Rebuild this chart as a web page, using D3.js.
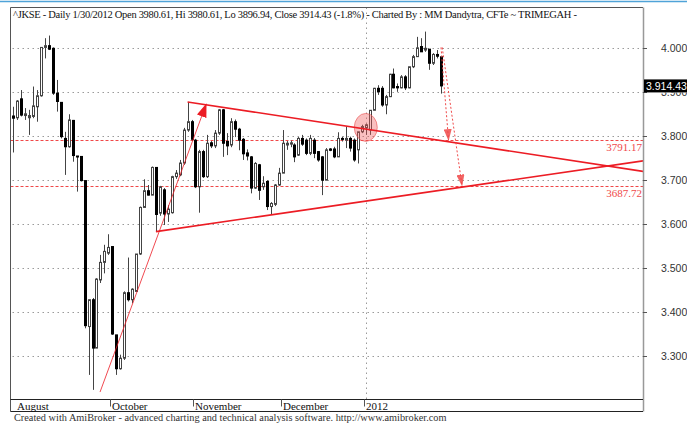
<!DOCTYPE html>
<html>
<head>
<meta charset="utf-8">
<script src="https://cdn.jsdelivr.net/npm/d3@7"></script>
<style>
  body { margin: 0; background: #fff; }
  svg { display: block; }
</style>
</head>
<body>
<div id="chart"></div>
<script>
// ^JKSE daily bars, late Aug 2011 .. 30 Jan 2012
const opens = [3846,3842,3885,3847,3842,3845,3867,3892,4002,4006,4000,3898,3877,3795,3776,3836,3755,3754,3699,3367,
  3428,3318,3473,3513,3534,3549,3348,3271,3295,3444,3428,3447,3532,3638,3676,3666,3729,3625,3678,3623,
  3626,3708,3712,3739,3814,3833,3791,3685,3765,3708,3785,3778,3807,3860,3788,3780,3833,3816,3793,3762,
  3753,3682,3735,3685,3697,3640,3645,3689,3716,3780,3782,3780,3757,3795,3791,3761,3791,3765,3753,3700,
  3771,3771,3753,3795,3791,3795,3791,3769,3810,3819,3814,3859,3909,3909,3871,3890,3941,3913,3910,3935,
  3910,3958,3981,4004,3996,3998,3966,3986,3980.61];
const highs = [3867,3882,3905,3864,3860,3913,3905,4002,4023,4029,4002,3928,3877,3810,3850,3837,3755,3754,3699,3428,
  3432,3477,3530,3553,3577,3549,3348,3303,3447,3524,3454,3532,3640,3702,3689,3731,3729,3687,3682,3643,
  3710,3723,3746,3819,3878,3837,3794,3769,3769,3803,3789,3814,3862,3862,3807,3841,3838,3819,3796,3770,
  3755,3741,3737,3709,3700,3650,3691,3728,3814,3789,3790,3784,3798,3803,3795,3803,3796,3766,3755,3773,
  3773,3776,3809,3799,3822,3799,3795,3810,3826,3828,3859,3910,3916,3914,3894,3942,3954,3920,3939,3939,
  3958,3985,4026,4023,4038,3998,3989,3996,3980.61];
const lows = [3763,3837,3845,3837,3803,3841,3833,3890,3977,3996,3894,3856,3795,3712,3774,3742,3674,3697,3363,3257,
  3223,3318,3466,3488,3530,3348,3257,3269,3291,3424,3420,3447,3530,3638,3665,3666,3583,3619,3598,3605,
  3624,3703,3709,3735,3810,3789,3682,3626,3705,3705,3773,3773,3803,3753,3757,3775,3798,3768,3746,3745,
  3670,3680,3655,3678,3632,3621,3641,3687,3716,3769,3775,3741,3755,3778,3757,3757,3750,3742,3666,3700,
  3766,3750,3753,3788,3773,3765,3742,3738,3807,3803,3803,3859,3894,3867,3850,3889,3909,3901,3909,3905,
  3909,3955,3981,3992,3992,3951,3962,3977,3896.94];
const closes = [3841,3880,3848,3851,3847,3869,3892,4002,4006,3998,3898,3879,3799,3776,3837,3756,3753,3699,3369,3428,
  3318,3475,3513,3538,3547,3350,3271,3295,3444,3428,3452,3532,3638,3676,3666,3729,3622,3685,3623,3634,
  3708,3716,3739,3814,3833,3793,3685,3765,3708,3784,3778,3807,3860,3784,3778,3833,3816,3791,3760,3755,
  3682,3738,3677,3693,3640,3647,3689,3716,3784,3784,3785,3753,3795,3782,3761,3795,3761,3746,3700,3769,
  3768,3753,3795,3794,3795,3773,3746,3810,3822,3826,3859,3909,3901,3871,3890,3941,3910,3910,3935,3910,
  3958,3981,4001,3992,4000,3966,3986,3982,3914.43];

// Month separators (bar index of first bar) and labels
const monthStarts = [0, 25, 46, 68, 89];
const monthLabels = ["August", "October", "November", "December", "2012"];

// Price axis ticks
const priceTicks = [3300, 3400, 3500, 3600, 3700, 3800, 3900, 4000];

// Drawn studies: [bar index, price]
const upperTrend = [[44, 3878], [159, 3720]];
const lowerTrend = [[36, 3583], [159, 3744]];
const upArrow = [[21.9, 3218], [48.7, 3873]];
const targetLevels = [3791.17, 3687.72];
const targetArrows = [
  [[108, 4002], [109.9, 3791.17]],
  [[108.3, 4002], [113.3, 3687.72]]
];
const breakoutPoint = [89, 3820];
const lastClose = 3914.43;

const title = "^JKSE - Daily 1/30/2012 Open 3980.61, Hi 3980.61, Lo 3896.94, Close 3914.43 (-1.8%) - Charted By : MM Dandytra, CFTe ~ TRIMEGAH -";
const footer = "Created with AmiBroker - advanced charting and technical analysis software. http://www.amibroker.com";

// Parameters
const width = 687;
const height = 425;
const plotLeft = 10.5, plotRight = 643, plotTop = 7.5, plotBottom = 399.5, bandBottom = 411.5;
const red = "#ec1c24";
const lightRed = "#f04848";

const bars = opens.map((o, i) => ({ i, o, h: highs[i], l: lows[i], c: closes[i] }));

const x = d3.scaleLinear().domain([0, 159]).range([13.3, plotRight]);
const y = d3.scaleLinear().domain([3300, 4000]).range([356, 48.3]);
const fmt = d3.formatLocale({ decimal: ",", thousands: ".", grouping: [3] }).format(",d");

const svg = d3.select("#chart")
  .append("svg")
  .attr("width", width)
  .attr("height", height)
  .style("font-family", "'Liberation Serif', serif");

const defs = svg.append("defs");
defs.append("clipPath").attr("id", "plot")
  .append("rect")
  .attr("x", plotLeft).attr("y", plotTop)
  .attr("width", plotRight - plotLeft).attr("height", plotBottom - plotTop);

// the 3.900 label hides behind the last price box, as in AmiBroker
defs.append("clipPath").attr("id", "underBox")
  .append("rect")
  .attr("x", plotRight).attr("y", y(lastClose) + 6.5)
  .attr("width", width - plotRight).attr("height", 10);

defs.append("marker")
  .attr("id", "headSolid")
  .attr("markerUnits", "userSpaceOnUse")
  .attr("viewBox", "0 0 14 10")
  .attr("refX", 13).attr("refY", 5)
  .attr("markerWidth", 14).attr("markerHeight", 10)
  .attr("orient", "auto")
  .append("path")
  .attr("d", "M0,0L14,5L0,10Z")
  .attr("fill", red);

defs.append("marker")
  .attr("id", "headDotted")
  .attr("markerUnits", "userSpaceOnUse")
  .attr("viewBox", "0 0 12 8")
  .attr("refX", 11).attr("refY", 4)
  .attr("markerWidth", 12).attr("markerHeight", 8)
  .attr("orient", "auto")
  .append("path")
  .attr("d", "M0,0L12,4L0,8Z")
  .attr("fill", lightRed)
  .attr("opacity", 0.85);

// Blue strip at the very top
svg.append("line")
  .attr("x1", 0).attr("x2", width)
  .attr("y1", 1.5).attr("y2", 1.5)
  .attr("stroke", "#4fa3d8")
  .attr("stroke-width", 1.5);

// Horizontal grid
svg.append("g")
  .selectAll("line")
  .data(priceTicks)
  .enter()
  .append("line")
  .attr("x1", plotLeft + 2).attr("x2", plotRight)
  .attr("y1", d => Math.round(y(d)) + 0.5)
  .attr("y2", d => Math.round(y(d)) + 0.5)
  .attr("stroke", "#9a9a9a")
  .attr("stroke-dasharray", "1.5,3.5");

// Year separator
svg.append("line")
  .attr("x1", Math.round(x(monthStarts[4])) + 0.5)
  .attr("x2", Math.round(x(monthStarts[4])) + 0.5)
  .attr("y1", plotTop).attr("y2", plotBottom)
  .attr("stroke", "#9a9a9a")
  .attr("stroke-dasharray", "1.5,3.5");

const plot = svg.append("g").attr("clip-path", "url(#plot)");

// Target levels (dashed red)
plot.selectAll(".level")
  .data(targetLevels)
  .enter()
  .append("line")
  .attr("class", "level")
  .attr("x1", plotLeft).attr("x2", plotRight)
  .attr("y1", d => Math.round(y(d)) + 0.5)
  .attr("y2", d => Math.round(y(d)) + 0.5)
  .attr("stroke", lightRed)
  .attr("stroke-dasharray", "3,2");

// Candles
const candle = plot.selectAll(".bar")
  .data(bars)
  .enter()
  .append("g")
  .attr("class", "bar");

candle.append("line")
  .attr("x1", d => Math.round(x(d.i)) + 0.5)
  .attr("x2", d => Math.round(x(d.i)) + 0.5)
  .attr("y1", d => y(d.h))
  .attr("y2", d => y(d.l))
  .attr("stroke", "#444");

candle.append("rect")
  .attr("x", d => Math.round(x(d.i)) - 0.5)
  .attr("width", 2)
  .attr("y", d => y(Math.max(d.o, d.c)))
  .attr("height", d => Math.max(1, Math.abs(y(d.o) - y(d.c))))
  .attr("fill", d => d.c < d.o ? "#000" : "#fff")
  .attr("stroke", d => d.c < d.o ? "#000" : "#444");

// Breakout circle
plot.append("ellipse")
  .attr("cx", x(breakoutPoint[0]))
  .attr("cy", y(breakoutPoint[1]))
  .attr("rx", 11.5).attr("ry", 14)
  .attr("fill", "rgba(240,90,90,0.38)")
  .attr("stroke", "rgba(235,80,80,0.6)");

// Trend lines of the triangle
const line = d3.line().x(d => x(d[0])).y(d => y(d[1]));
[upperTrend, lowerTrend].forEach(t => {
  plot.append("path")
    .attr("d", line(t))
    .attr("fill", "none")
    .attr("stroke", red)
    .attr("stroke-width", 1.6);
});

// Rising arrow
plot.append("path")
  .attr("d", line(upArrow))
  .attr("fill", "none")
  .attr("stroke", red)
  .attr("stroke-width", 0.8)
  .attr("marker-end", "url(#headSolid)");

// Dotted target arrows from the last bar
plot.selectAll(".target")
  .data(targetArrows)
  .enter()
  .append("path")
  .attr("class", "target")
  .attr("d", d => line(d))
  .attr("fill", "none")
  .attr("stroke", lightRed)
  .attr("stroke-dasharray", "2,2")
  .attr("marker-end", "url(#headDotted)");

// Target labels
svg.selectAll(".level-label")
  .data(targetLevels)
  .enter()
  .append("text")
  .attr("class", "level-label")
  .attr("x", plotRight - 1)
  .attr("y", d => y(d) + 11)
  .attr("text-anchor", "end")
  .attr("fill", lightRed)
  .style("font-size", "11px")
  .text(d => d.toFixed(2));

// Frame
svg.append("path")
  .attr("d", `M${plotLeft},${bandBottom}V${plotTop}H${plotRight}`)
  .attr("fill", "none")
  .attr("stroke", "#555");
svg.append("line")
  .attr("x1", plotRight + 0.5).attr("x2", plotRight + 0.5)
  .attr("y1", plotTop).attr("y2", bandBottom)
  .attr("stroke", "#999").attr("stroke-width", 1.5);
svg.append("line")
  .attr("x1", plotLeft).attr("x2", plotRight)
  .attr("y1", plotBottom).attr("y2", plotBottom)
  .attr("stroke", "#222");
svg.append("line")
  .attr("x1", plotLeft).attr("x2", plotRight)
  .attr("y1", bandBottom).attr("y2", bandBottom)
  .attr("stroke", "#222");

// Price axis labels
const yAxis = svg.append("g");
yAxis.selectAll("line")
  .data(priceTicks)
  .enter()
  .append("line")
  .attr("x1", plotRight).attr("x2", plotRight + 4)
  .attr("y1", d => Math.round(y(d)) + 0.5)
  .attr("y2", d => Math.round(y(d)) + 0.5)
  .attr("stroke", "#555");
yAxis.selectAll("text")
  .data(priceTicks)
  .enter()
  .append("text")
  .attr("x", 661)
  .attr("y", d => y(d) + 4)
  .attr("fill", "#333")
  .attr("clip-path", d => d === 3900 ? "url(#underBox)" : null)
  .style("font-family", "'Liberation Sans', sans-serif")
  .style("font-size", "10.5px")
  .text(d => fmt(d));

// Last price box
const lastY = y(lastClose);
svg.append("rect")
  .attr("x", plotRight + 1).attr("y", lastY - 6.5)
  .attr("width", width - plotRight - 1).attr("height", 13)
  .attr("fill", "#000");
svg.append("text")
  .attr("x", plotRight + 3).attr("y", lastY + 4)
  .attr("fill", "#fff")
  .style("font-family", "'Liberation Sans', sans-serif")
  .style("font-size", "10.5px")
  .text("3.914.43");

// Month separators and labels
const months = svg.append("g");
months.selectAll("line")
  .data(monthStarts.slice(1))
  .enter()
  .append("line")
  .attr("x1", d => Math.round(x(d)) - 1.5)
  .attr("x2", d => Math.round(x(d)) - 1.5)
  .attr("y1", plotBottom).attr("y2", plotBottom + 7)
  .attr("stroke", "#555");
months.selectAll("text")
  .data(monthStarts)
  .enter()
  .append("text")
  .attr("x", (d, i) => i === 0 ? 17 : Math.round(x(d)))
  .attr("y", plotBottom + 10)
  .attr("fill", "#111")
  .style("font-size", "11px")
  .text((d, i) => monthLabels[i]);

// Title and footer
svg.append("text")
  .attr("x", 13).attr("y", 18)
  .attr("fill", "#111")
  .attr("textLength", 564)
  .attr("lengthAdjust", "spacing")
  .style("font-size", "10.5px")
  .text(title);

svg.append("text")
  .attr("x", 14).attr("y", 421)
  .attr("fill", "#333")
  .style("font-size", "10.3px")
  .text(footer);
</script>
</body>
</html>
